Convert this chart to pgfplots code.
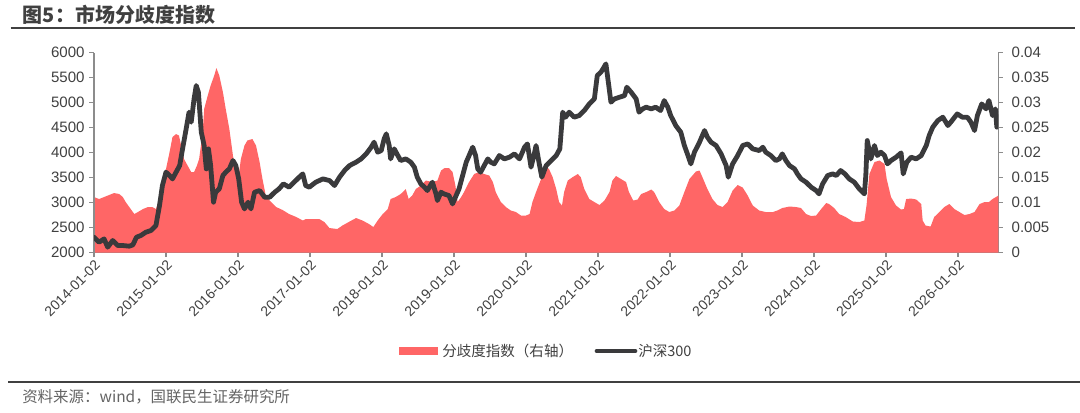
\documentclass[border=0pt]{standalone}
\usepackage{fontspec}
\setmainfont{Liberation Sans}
\newfontfamily\cjk{Noto Sans CJK SC}
\usepackage{pgfplots}
\pgfplotsset{compat=1.18}
\definecolor{divred}{RGB}{255,102,102}
\definecolor{hsline}{RGB}{58,58,60}
\definecolor{axgray}{RGB}{140,140,140}
\definecolor{txt}{RGB}{64,64,64}
\definecolor{srcgray}{RGB}{100,100,100}

\begin{document}
\begin{tikzpicture}[x=1pt,y=1pt]
\path[use as bounding box] (0,0) rectangle (810,309);
% title
\node[anchor=west, inner sep=0, text=txt, font=\cjk\bfseries\fontsize{15}{15}\selectfont] at (17,297.75) {图5：市场分歧度指数};
\draw[line width=1.5pt, txt] (8,288) -- (806,288);

% right axis: divergence index (area)
\begin{axis}[
  at={(70.5pt,119.6pt)}, anchor=south west,
  scale only axis, width=678.2pt, height=150pt,
  xmin=2014, xmax=2026.56, ymin=0, ymax=0.04,
  axis x line*=bottom, axis y line*=right,
  axis line style={-, axgray, line width=1pt},
  tick style={axgray, line width=0.8pt},
  tick align=outside, major tick length=3.5pt,
  xtick={2014,2015,2016,2017,2018,2019,2020,2021,2022,2023,2024,2025,2026},
  xticklabels={2014-01-02,2015-01-02,2016-01-02,2017-01-02,2018-01-02,2019-01-02,2020-01-02,2021-01-02,2022-01-02,2023-01-02,2024-01-02,2025-01-02,2026-01-02},
  xticklabel style={rotate=45, anchor=north east, font=\fontsize{10.5}{10.5}\selectfont, text=txt, inner sep=1pt},
  ytick={0,0.005,0.01,0.015,0.02,0.025,0.03,0.035,0.04},
  yticklabels={0,0.005,0.01,0.015,0.02,0.025,0.03,0.035,0.04},
  scaled y ticks=false,
  yticklabel style={font=\fontsize{11.3}{11.3}\selectfont, text=txt, xshift=3pt},
]
\addplot[fill=divred, draw=none] coordinates {
(2014.00,0.0111)(2014.07,0.0107)(2014.14,0.0111)(2014.21,0.0115)(2014.28,0.0119)(2014.35,0.0117)(2014.40,0.0111)(2014.44,0.0101)(2014.51,0.0087)(2014.56,0.0077)(2014.61,0.0081)(2014.68,0.0087)(2014.75,0.0091)(2014.81,0.0091)(2014.86,0.0087)(2014.91,0.0107)(2014.95,0.0147)(2015.00,0.0167)(2015.05,0.0201)(2015.09,0.0231)(2015.14,0.0237)(2015.18,0.0234)(2015.21,0.0214)(2015.25,0.0187)(2015.30,0.0174)(2015.35,0.0161)(2015.39,0.0161)(2015.43,0.0174)(2015.46,0.0187)(2015.51,0.0241)(2015.53,0.0287)(2015.58,0.0314)(2015.62,0.0334)(2015.67,0.0354)(2015.70,0.0369)(2015.74,0.0354)(2015.79,0.0321)(2015.83,0.0287)(2015.88,0.0247)(2015.93,0.0194)(2015.97,0.0161)(2016.01,0.0154)(2016.04,0.0187)(2016.09,0.0214)(2016.13,0.0224)(2016.20,0.0227)(2016.25,0.0214)(2016.30,0.0181)(2016.34,0.0147)(2016.39,0.0111)(2016.46,0.0101)(2016.53,0.0091)(2016.62,0.0085)(2016.71,0.0077)(2016.81,0.0071)(2016.90,0.0064)(2016.94,0.0067)
(2016.99,0.0067)(2017.13,0.0067)(2017.20,0.0061)(2017.27,0.0049)(2017.38,0.0047)(2017.45,0.0054)(2017.55,0.0062)(2017.64,0.0069)(2017.73,0.0064)(2017.82,0.0057)(2017.88,0.0051)(2017.94,0.0064)(2018.01,0.0077)(2018.08,0.0087)(2018.12,0.0107)(2018.19,0.0111)(2018.26,0.0117)(2018.33,0.0127)(2018.37,0.0107)(2018.42,0.0114)(2018.47,0.0127)(2018.54,0.0134)(2018.61,0.0144)(2018.70,0.0141)(2018.77,0.0144)(2018.82,0.0164)(2018.87,0.0169)(2018.93,0.0169)(2018.98,0.0161)(2019.02,0.0134)(2019.05,0.0101)(2019.10,0.0111)(2019.14,0.0121)(2019.21,0.0141)(2019.28,0.0157)(2019.35,0.0161)(2019.42,0.0157)(2019.49,0.0154)(2019.54,0.0141)(2019.58,0.0121)(2019.65,0.0101)(2019.72,0.0091)(2019.79,0.0084)(2019.86,0.0081)(2019.93,0.0074)(2020.00,0.0074)
(2020.05,0.0077)(2020.09,0.0101)(2020.14,0.0121)(2020.21,0.0147)(2020.28,0.0171)(2020.32,0.0167)(2020.37,0.0151)(2020.42,0.0127)(2020.46,0.0101)(2020.50,0.0094)(2020.53,0.0121)(2020.58,0.0144)(2020.65,0.0151)(2020.72,0.0157)(2020.76,0.0151)(2020.81,0.0127)(2020.88,0.0107)(2020.95,0.0101)(2021.02,0.0095)(2021.09,0.0104)(2021.16,0.0121)(2021.20,0.0144)(2021.25,0.0153)(2021.32,0.0147)(2021.39,0.0141)(2021.43,0.0121)(2021.49,0.0104)(2021.55,0.0106)(2021.60,0.0117)(2021.67,0.0121)(2021.74,0.0126)(2021.78,0.0121)(2021.85,0.0101)(2021.92,0.0087)(2021.99,0.0081)(2022.06,0.0084)(2022.13,0.0094)(2022.20,0.0121)(2022.27,0.0147)(2022.36,0.0162)(2022.41,0.0164)(2022.45,0.0151)(2022.52,0.0127)(2022.59,0.0107)(2022.66,0.0095)(2022.73,0.0091)(2022.80,0.0101)(2022.87,0.0124)(2022.94,0.0135)(2023.01,0.0130)(2023.08,0.0114)(2023.15,0.0094)
(2023.24,0.0084)(2023.33,0.0081)(2023.43,0.0081)(2023.49,0.0084)(2023.56,0.0089)(2023.66,0.0092)(2023.75,0.0091)(2023.82,0.0089)(2023.89,0.0077)(2023.96,0.0073)(2024.03,0.0074)(2024.10,0.0087)(2024.17,0.0099)(2024.21,0.0097)(2024.28,0.0089)(2024.35,0.0077)(2024.44,0.0071)(2024.54,0.0062)(2024.63,0.0061)(2024.70,0.0064)(2024.73,0.0094)(2024.77,0.0157)(2024.84,0.0181)(2024.91,0.0184)(2024.98,0.0177)(2025.01,0.0147)(2025.07,0.0111)(2025.14,0.0094)(2025.21,0.0086)(2025.25,0.0087)(2025.28,0.0107)(2025.35,0.0108)(2025.42,0.0106)(2025.49,0.0097)(2025.51,0.0064)(2025.55,0.0054)(2025.62,0.0052)(2025.67,0.0071)(2025.74,0.0081)(2025.81,0.0091)(2025.88,0.0097)(2025.95,0.0087)(2026.02,0.0081)(2026.09,0.0075)(2026.16,0.0077)(2026.23,0.0081)(2026.30,0.0097)(2026.37,0.0101)(2026.43,0.0101)(2026.48,0.0107)(2026.54,0.0112)(2026.56,0.0114)
} \closedcycle;
\end{axis}

% left axis: CSI 300 (line)
\begin{axis}[
  at={(70.5pt,119.6pt)}, anchor=south west,
  scale only axis, width=678.2pt, height=150pt,
  xmin=2014, xmax=2026.56, ymin=2000, ymax=6000,
  axis x line=none, axis y line*=left,
  axis line style={-, axgray, line width=1pt},
  tick style={axgray, line width=0.8pt},
  tick align=outside, major tick length=3.5pt,
  ytick={2000,2500,3000,3500,4000,4500,5000,5500,6000},
  yticklabels={2000,2500,3000,3500,4000,4500,5000,5500,6000},
  yticklabel style={font=\fontsize{11.3}{11.3}\selectfont, text=txt},
]
\addplot[hsline, line width=3.6pt, line join=round, line cap=round] coordinates {
(2014.00,2307)(2014.07,2207)(2014.14,2273)(2014.19,2107)(2014.26,2240)(2014.33,2140)(2014.40,2140)(2014.49,2127)(2014.54,2153)(2014.59,2307)(2014.65,2340)(2014.72,2407)(2014.79,2440)(2014.86,2540)(2014.91,2940)(2014.95,3340)(2015.00,3607)(2015.05,3540)(2015.09,3473)(2015.14,3607)(2015.19,3740)(2015.23,4073)(2015.28,4473)(2015.32,4807)(2015.35,4607)(2015.39,5073)(2015.42,5340)(2015.45,5207)(2015.49,4407)(2015.53,4140)(2015.56,3673)(2015.59,4073)(2015.62,3740)(2015.66,3007)(2015.69,3207)(2015.74,3273)(2015.79,3540)(2015.83,3607)(2015.88,3673)(2015.93,3840)(2015.97,3740)(2016.01,3473)(2016.05,3007)(2016.09,2873)(2016.14,3007)(2016.18,2873)(2016.23,3207)(2016.30,3240)(2016.37,3107)(2016.44,3107)(2016.51,3207)(2016.57,3273)(2016.63,3373)(2016.71,3307)(2016.78,3407)(2016.85,3507)(2016.90,3573)(2016.94,3340)
(2016.99,3307)(2017.08,3407)(2017.18,3473)(2017.27,3440)(2017.34,3340)(2017.41,3507)(2017.48,3640)(2017.55,3740)(2017.64,3807)(2017.71,3873)(2017.78,3973)(2017.85,4107)(2017.89,4207)(2017.94,4007)(2017.99,4040)(2018.03,4273)(2018.06,4373)(2018.10,4140)(2018.12,3873)(2018.17,4073)(2018.22,3940)(2018.26,3840)(2018.33,3873)(2018.40,3807)(2018.45,3707)(2018.49,3507)(2018.54,3373)(2018.59,3307)(2018.63,3240)(2018.70,3407)(2018.75,3173)(2018.77,3040)(2018.82,3207)(2018.86,3173)(2018.93,3140)(2018.98,2973)(2019.03,3140)(2019.07,3273)(2019.12,3540)(2019.17,3807)(2019.21,3940)(2019.26,4107)(2019.30,3940)(2019.33,3673)(2019.37,3607)(2019.42,3740)(2019.47,3873)(2019.51,3807)(2019.56,3773)(2019.63,3940)(2019.70,3873)(2019.77,3907)(2019.84,3973)(2019.91,3873)(2019.98,4107)(2020.02,4173)(2020.07,3707)(2020.11,3940)(2020.14,4140)(2020.18,3807)(2020.22,3507)
(2020.28,3740)(2020.35,3840)(2020.42,3940)(2020.47,4073)(2020.51,4807)(2020.55,4707)(2020.60,4807)(2020.67,4707)(2020.74,4740)(2020.81,4840)(2020.88,4973)(2020.95,5073)(2020.99,5540)(2021.04,5607)(2021.07,5673)(2021.11,5773)(2021.15,5340)(2021.18,5007)(2021.23,5073)(2021.30,5107)(2021.37,5140)(2021.40,5307)(2021.46,5207)(2021.53,5073)(2021.57,4807)(2021.62,4873)(2021.67,4907)(2021.74,4873)(2021.80,4907)(2021.87,4840)(2021.92,5040)(2021.97,4907)(2022.01,4740)(2022.08,4540)(2022.15,4407)(2022.20,4140)(2022.25,3940)(2022.29,3773)(2022.34,4007)(2022.41,4207)(2022.48,4440)(2022.52,4307)(2022.57,4207)(2022.64,4140)(2022.71,3973)(2022.78,3740)(2022.81,3507)(2022.87,3773)(2022.94,3940)(2023.01,4140)(2023.08,4173)(2023.15,4073)
(2023.24,4040)(2023.29,4107)(2023.33,4007)(2023.40,3940)(2023.47,3840)(2023.52,3873)(2023.56,3973)(2023.61,3840)(2023.66,3740)(2023.73,3673)(2023.77,3573)(2023.82,3473)(2023.89,3407)(2023.96,3307)(2024.03,3240)(2024.07,3173)(2024.12,3373)(2024.19,3540)(2024.26,3573)(2024.31,3540)(2024.37,3640)(2024.43,3573)(2024.49,3473)(2024.56,3407)(2024.63,3273)(2024.70,3173)(2024.72,3540)(2024.74,4240)(2024.79,3873)(2024.84,4140)(2024.88,3940)(2024.93,4007)(2024.98,3940)(2025.02,3773)(2025.07,3840)(2025.14,3907)(2025.21,3993)(2025.24,3573)(2025.29,3807)(2025.35,3907)(2025.42,3873)(2025.49,3940)(2025.56,4140)(2025.60,4340)(2025.65,4507)(2025.72,4640)(2025.79,4707)(2025.86,4540)(2025.90,4607)(2025.99,4773)(2026.06,4707)(2026.13,4707)(2026.18,4607)(2026.23,4440)(2026.27,4740)(2026.33,4973)(2026.39,4873)(2026.43,5040)(2026.48,4740)(2026.52,4873)(2026.54,4507)
};
\end{axis}

% legend
\fill[divred] (299.25,42.75) rectangle (328.5,48.75);
\node[anchor=west, inner sep=0, text=txt, font=\cjk\fontsize{10.9}{10.9}\selectfont] at (331.5,45.75) {分歧度指数（右轴）};
\draw[hsline, line width=3pt, line cap=round] (447.5,45.75) -- (476.5,45.75);
\node[anchor=west, inner sep=0, text=txt, font=\cjk\fontsize{10.9}{10.9}\selectfont] at (478.5,45.75) {沪深300};

% source
\draw[line width=1.5pt, txt] (6,22.5) -- (810,22.5);
\node[anchor=west, inner sep=0, text=srcgray, font=\cjk\fontsize{11.6}{11.6}\selectfont] at (16.5,11.25) {资料来源：wind，国联民生证券研究所};
\end{tikzpicture}
\end{document}
